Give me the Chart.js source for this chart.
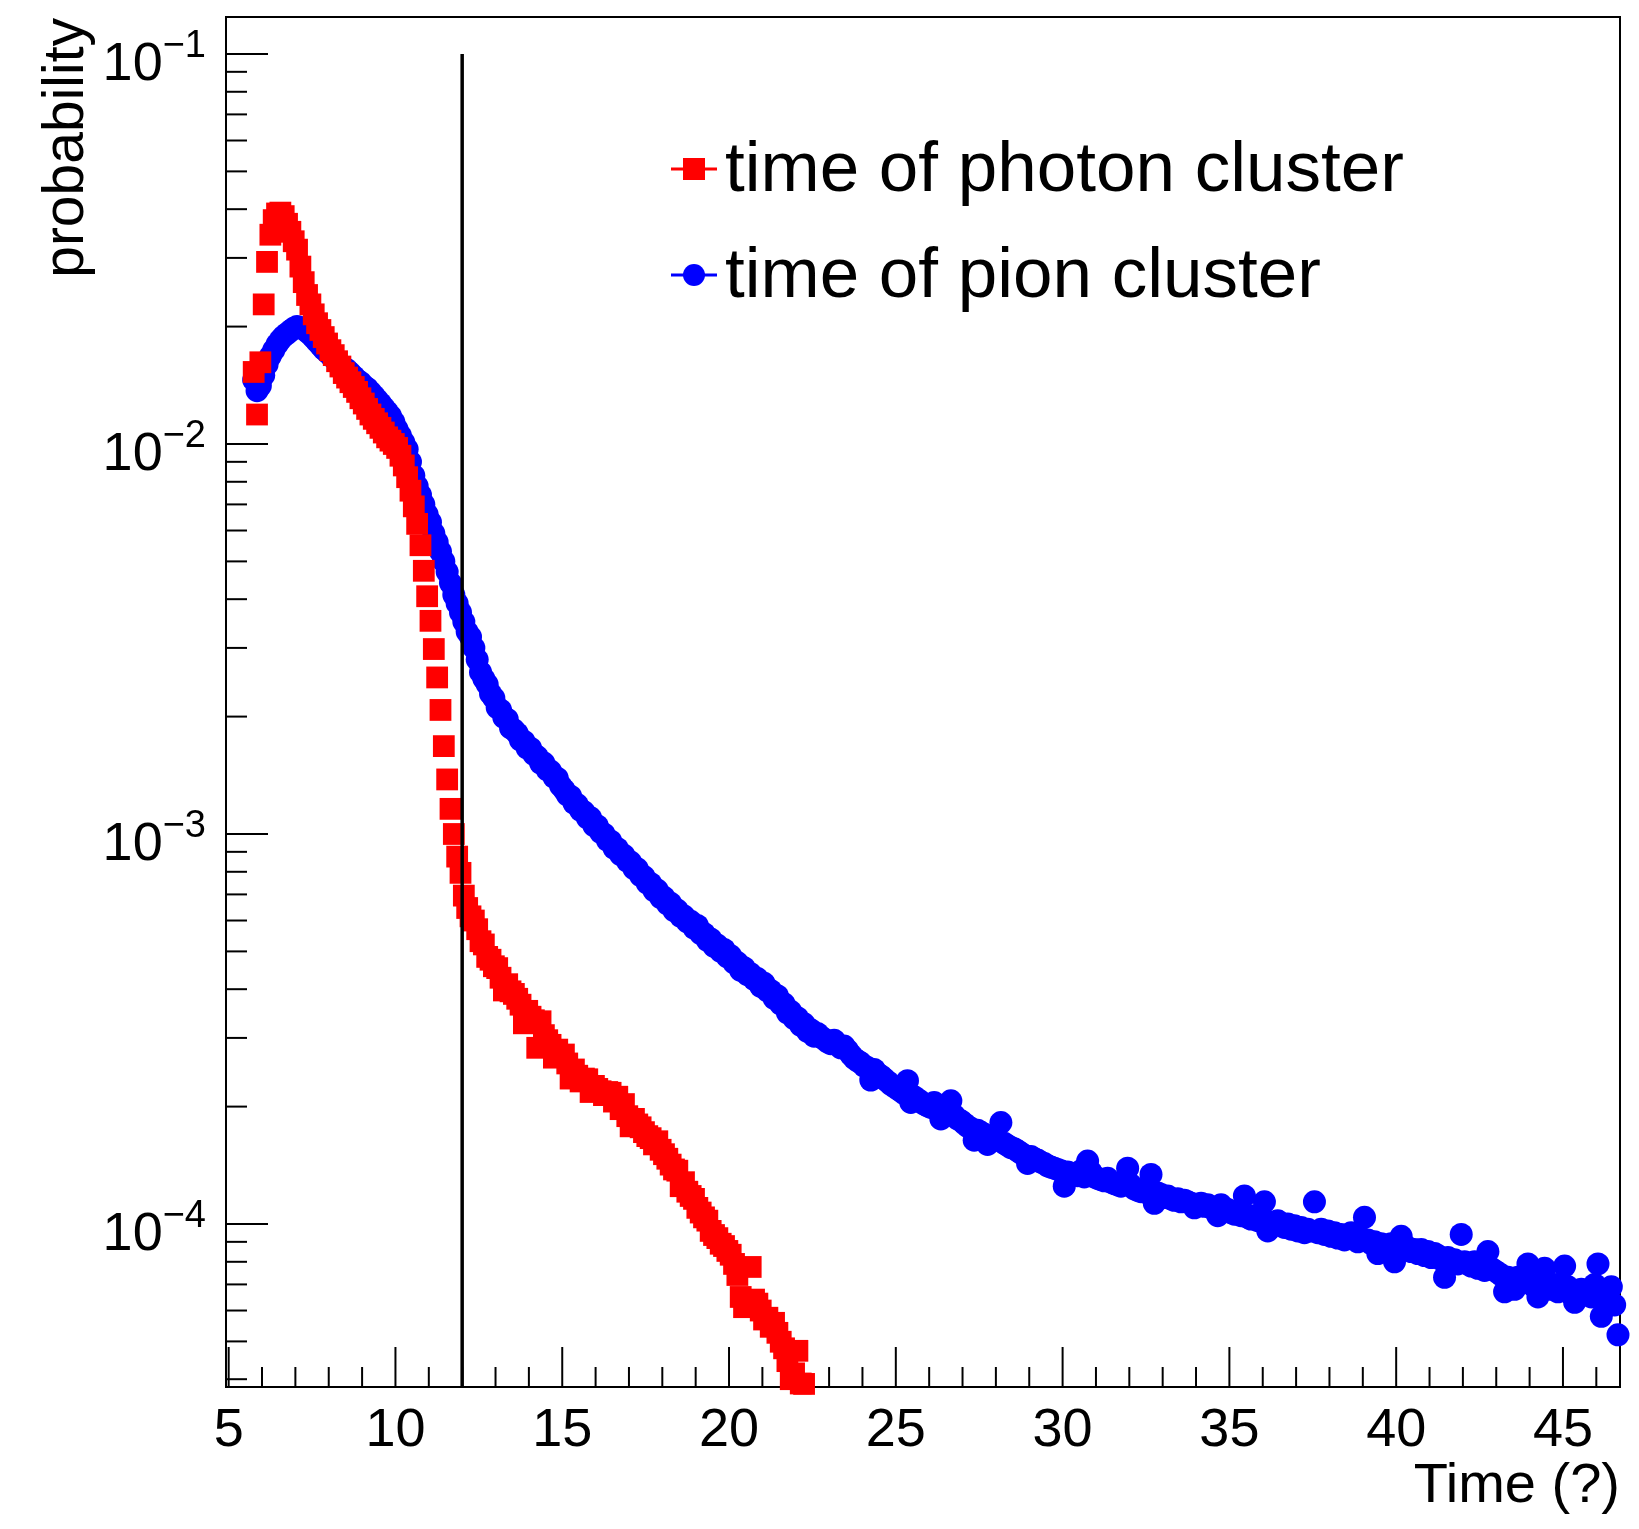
<!DOCTYPE html>
<html>
<head>
<meta charset="utf-8">
<script src="https://cdn.jsdelivr.net/npm/chart.js@4.4.1/dist/chart.umd.min.js"></script>
<style>
html,body{margin:0;padding:0;background:#ffffff;}
#wrap{width:1639px;height:1529px;position:relative;background:#ffffff;}
</style>
</head>
<body>
<div id="wrap"><canvas id="c" width="1639" height="1529"></canvas></div>
<script>
// ---------------- data ----------------
const binStart = 5.75;   // centre of first filled bin
const binWidth = 0.1;    // histogram bin width

const seriesNames = ['time of photon cluster', 'time of pion cluster'];
const xAxisTitle = 'Time (?)';
const yAxisTitle = 'probability';
const xTickLabels = [5, 10, 15, 20, 25, 30, 35, 40, 45];
const yTickExponents = [-1, -2, -3, -4];
const cutTime = 12;
const cutTop = 0.1;

const photonValues = [
  0.0153, 0.0119, 0.0162, 0.0228, 0.0293, 0.0344, 0.0375, 0.0390, 0.0392, 0.0384,
  0.0367, 0.0350, 0.0331, 0.0315, 0.0285, 0.0260, 0.0241, 0.0228, 0.0215, 0.0204,
  0.0196, 0.0188, 0.0181, 0.0174, 0.0169, 0.0163, 0.0158, 0.0152, 0.0148, 0.0144,
  0.0140, 0.0136, 0.0131, 0.0127, 0.0123, 0.0119, 0.0116, 0.0113, 0.0110, 0.0107,
  0.0104, 0.0102, 0.0100, 0.00977, 0.00933, 0.00881, 0.00822, 0.00759, 0.00692, 0.00624,
  0.00550, 0.00473, 0.00407, 0.00352, 0.00298, 0.00252, 0.00208, 0.00168, 0.00138, 0.00116,
  0.00100, 8.75e-4, 7.95e-4, 6.95e-4, 6.46e-4, 6.15e-4, 6.00e-4, 5.70e-4, 5.31e-4, 5.21e-4,
  4.84e-4, 4.76e-4, 4.58e-4, 4.53e-4, 4.28e-4, 3.97e-4, 4.12e-4, 3.95e-4, 3.89e-4, 3.78e-4,
  3.65e-4, 3.27e-4, 3.52e-4, 3.40e-4, 3.33e-4, 2.83e-4, 3.31e-4, 3.05e-4, 2.96e-4, 2.88e-4,
  2.67e-4, 2.80e-4, 2.70e-4, 2.72e-4, 2.58e-4, 2.36e-4, 2.49e-4, 2.40e-4, 2.32e-4, 2.36e-4,
  2.35e-4, 2.18e-4, 2.26e-4, 2.22e-4, 2.19e-4, 2.14e-4, 2.18e-4, 2.17e-4, 2.06e-4, 2.12e-4,
  1.97e-4, 2.03e-4, 1.89e-4, 1.78e-4, 1.86e-4, 1.80e-4, 1.77e-4, 1.72e-4, 1.68e-4, 1.66e-4,
  1.60e-4, 1.63e-4, 1.55e-4, 1.51e-4, 1.47e-4, 1.42e-4, 1.38e-4, 1.37e-4, 1.25e-4, 1.28e-4,
  1.21e-4, 1.18e-4, 1.16e-4, 1.10e-4, 1.07e-4, 1.04e-4, 1.02e-4, 9.60e-5, 9.37e-5, 9.20e-5,
  8.90e-5, 8.78e-5, 8.53e-5, 8.34e-5, 7.90e-5, 7.40e-5, 6.50e-5, 6.12e-5, 6.30e-5, 7.76e-5,
  6.40e-5, 6.25e-5, 6.00e-5, 5.69e-5, 5.75e-5, 5.45e-5, 5.58e-5, 5.26e-5, 4.99e-5, 4.80e-5,
  4.45e-5, 4.00e-5, 4.14e-5, 4.73e-5, 3.90e-5, 3.89e-5
];

const pionValues = [
  0.0146, 0.0137, 0.0141, 0.0150, 0.0160, 0.0168, 0.0174, 0.0180, 0.0185, 0.0189,
  0.0192, 0.0195, 0.0198, 0.0200, 0.0199, 0.0197, 0.0194, 0.0191, 0.0187, 0.0183,
  0.0179, 0.0175, 0.0172, 0.0169, 0.0166, 0.0163, 0.0160, 0.0157, 0.0155, 0.0152,
  0.0149, 0.0146, 0.0144, 0.0141, 0.0139, 0.0136, 0.0133, 0.0130, 0.0127, 0.0124,
  0.0121, 0.0118, 0.0114, 0.0109, 0.0105, 0.0101, 0.0097, 0.0090, 0.0083, 0.0078,
  0.0074, 0.0070, 0.0066, 0.0063, 0.0059, 0.0056, 0.0053, 0.0050, 0.0047, 0.0044,
  0.0041, 0.0039, 0.0037, 0.0035, 0.0033, 0.0032, 0.0030, 0.0028, 0.0026, 0.0025,
  2.42e-3, 2.29e-3, 2.23e-3, 2.11e-3, 2.08e-3, 1.99e-3, 1.97e-3, 1.87e-3, 1.85e-3, 1.81e-3,
  1.74e-3, 1.73e-3, 1.66e-3, 1.66e-3, 1.60e-3, 1.58e-3, 1.52e-3, 1.52e-3, 1.46e-3, 1.45e-3,
  1.40e-3, 1.39e-3, 1.33e-3, 1.30e-3, 1.26e-3, 1.25e-3, 1.20e-3, 1.19e-3, 1.15e-3, 1.14e-3,
  1.10e-3, 1.10e-3, 1.05e-3, 1.05e-3, 1.01e-3, 1.00e-3, 9.65e-4, 9.60e-4, 9.20e-4, 9.18e-4,
  8.85e-4, 8.82e-4, 8.52e-4, 8.47e-4, 8.15e-4, 8.14e-4, 7.82e-4, 7.78e-4, 7.48e-4, 7.47e-4,
  7.16e-4, 7.18e-4, 6.87e-4, 6.88e-4, 6.62e-4, 6.64e-4, 6.36e-4, 6.38e-4, 6.15e-4, 6.16e-4,
  5.95e-4, 5.97e-4, 5.74e-4, 5.83e-4, 5.55e-4, 5.56e-4, 5.34e-4, 5.38e-4, 5.15e-4, 5.19e-4,
  5.00e-4, 5.06e-4, 4.84e-4, 4.87e-4, 4.67e-4, 4.68e-4, 4.47e-4, 4.54e-4, 4.36e-4, 4.38e-4,
  4.24e-4, 4.26e-4, 4.07e-4, 4.14e-4, 3.96e-4, 3.97e-4, 3.79e-4, 3.85e-4, 3.66e-4, 3.67e-4,
  3.48e-4, 3.51e-4, 3.36e-4, 3.38e-4, 3.23e-4, 3.26e-4, 3.12e-4, 3.15e-4, 3.03e-4, 3.08e-4,
  3.02e-4, 2.98e-4, 2.93e-4, 2.90e-4, 2.96e-4, 2.88e-4, 2.83e-4, 2.86e-4, 2.79e-4, 2.72e-4,
  2.66e-4, 2.62e-4, 2.59e-4, 2.54e-4, 2.52e-4, 2.34e-4, 2.49e-4, 2.43e-4, 2.40e-4, 2.36e-4,
  2.32e-4, 2.28e-4, 2.25e-4, 2.22e-4, 2.19e-4, 2.16e-4, 2.33e-4, 2.05e-4, 2.12e-4, 2.09e-4,
  2.06e-4, 2.03e-4, 2.01e-4, 1.99e-4, 2.05e-4, 1.96e-4, 1.86e-4, 1.94e-4, 1.92e-4, 2.07e-4,
  1.90e-4, 1.86e-4, 1.84e-4, 1.81e-4, 1.78e-4, 1.76e-4, 1.64e-4, 1.74e-4, 1.72e-4, 1.70e-4,
  1.60e-4, 1.68e-4, 1.66e-4, 1.64e-4, 1.82e-4, 1.61e-4, 1.59e-4, 1.57e-4, 1.56e-4, 1.54e-4,
  1.52e-4, 1.50e-4, 1.43e-4, 1.49e-4, 1.47e-4, 1.46e-4, 1.44e-4, 1.43e-4, 1.41e-4, 1.40e-4,
  1.39e-4, 1.38e-4, 1.37e-4, 1.25e-4, 1.36e-4, 1.35e-4, 1.34e-4, 1.33e-4, 1.37e-4, 1.32e-4,
  1.45e-4, 1.36e-4, 1.32e-4, 1.31e-4, 1.30e-4, 1.29e-4, 1.31e-4, 1.28e-4, 1.27e-4, 1.26e-4,
  1.25e-4, 1.27e-4, 1.39e-4, 1.26e-4, 1.23e-4, 1.22e-4, 1.21e-4, 1.23e-4, 1.20e-4, 1.34e-4,
  1.13e-4, 1.20e-4, 1.19e-4, 1.17e-4, 1.18e-4, 1.16e-4, 1.15e-4, 1.16e-4, 1.14e-4, 1.15e-4,
  1.14e-4, 1.13e-4, 1.10e-4, 1.12e-4, 1.13e-4, 1.11e-4, 1.12e-4, 1.10e-4, 1.09e-4, 1.05e-4,
  1.12e-4, 1.08e-4, 1.09e-4, 1.07e-4, 1.06e-4, 1.08e-4, 1.05e-4, 1.18e-4, 1.04e-4, 1.03e-4,
  1.05e-4, 1.02e-4, 1.04e-4, 1.14e-4, 9.6e-5, 1.01e-4, 1.00e-4, 1.02e-4, 9.9e-5, 9.8e-5,
  1.00e-4, 9.7e-5, 9.9e-5, 9.6e-5, 9.8e-5, 9.5e-5, 9.7e-5, 9.6e-5, 1.14e-4, 9.5e-5,
  9.7e-5, 9.4e-5, 9.6e-5, 9.3e-5, 9.5e-5, 9.2e-5, 9.4e-5, 9.1e-5, 9.3e-5, 9.5e-5,
  9.3e-5, 9.0e-5, 9.2e-5, 1.04e-4, 9.1e-5, 8.9e-5, 9.0e-5, 8.4e-5, 8.9e-5, 8.8e-5,
  8.7e-5, 8.9e-5, 8.0e-5, 8.8e-5, 9.3e-5, 8.6e-5, 8.7e-5, 8.5e-5, 8.6e-5, 8.4e-5,
  8.6e-5, 8.3e-5, 8.5e-5, 8.2e-5, 8.4e-5, 8.3e-5, 8.1e-5, 7.3e-5, 8.2e-5, 8.0e-5,
  8.1e-5, 7.9e-5, 9.4e-5, 8.0e-5, 7.9e-5, 7.8e-5, 8.0e-5, 7.7e-5, 7.9e-5, 7.6e-5,
  8.5e-5, 7.7e-5, 7.6e-5, 7.5e-5, 7.4e-5, 6.7e-5, 7.3e-5, 7.2e-5, 6.8e-5, 7.3e-5,
  7.1e-5, 7.2e-5, 7.9e-5, 7.0e-5, 6.9e-5, 6.5e-5, 7.1e-5, 7.7e-5, 6.9e-5, 6.8e-5,
  7.0e-5, 6.7e-5, 6.8e-5, 7.8e-5, 6.9e-5, 6.6e-5, 6.3e-5, 6.7e-5, 6.8e-5, 6.6e-5,
  6.7e-5, 6.5e-5, 7.0e-5, 7.9e-5, 5.8e-5, 6.6e-5, 6.4e-5, 6.9e-5, 6.2e-5, 5.2e-5
];

// axis ranges
const xMin = 4.92, xMax = 46.71;
const yMin = 3.82e-5, yMax = 0.1244;

// ---------------- helpers ----------------
function binPoints(values) {
  return values.map((v, i) => ({ x: Math.round((binStart + i * binWidth) * 100) / 100, y: v }));
}
const FONT = '"Liberation Sans", Arial, Helvetica, sans-serif';

function seg(ctx, x1, y1, x2, y2) {
  ctx.beginPath(); ctx.moveTo(x1, y1); ctx.lineTo(x2, y2); ctx.stroke();
}

const rootAxes = {
  id: 'rootAxes',
  beforeDatasetsDraw(chart) {
    const ctx = chart.ctx;
    const xs = chart.scales.x, ys = chart.scales.y;
    const a = chart.chartArea;
    ctx.save();
    ctx.strokeStyle = '#000'; ctx.fillStyle = '#000';
    ctx.lineWidth = 2;
    ctx.strokeRect(a.left, a.top, a.right - a.left, a.bottom - a.top);
    // x ticks (inside the frame)
    for (let v = Math.ceil(xs.min); v <= xs.max; v++) {
      const px = xs.getPixelForValue(v);
      const len = (v % 5 === 0) ? 40 : 20;
      seg(ctx, px, a.bottom, px, a.bottom - len);
    }
    // y ticks
    for (let e = -6; e <= 0; e++) {
      for (let m = 1; m <= 9; m++) {
        const v = m * Math.pow(10, e);
        if (v < ys.min || v > ys.max) continue;
        const py = ys.getPixelForValue(v);
        const len = (m === 1) ? 42 : 21;
        seg(ctx, a.left, py, a.left + len, py);
      }
    }
    // x tick labels
    ctx.font = '54px ' + FONT;
    ctx.textAlign = 'center'; ctx.textBaseline = 'alphabetic';
    xTickLabels.forEach(v => {
      ctx.fillText(String(v), xs.getPixelForValue(v), 1446);
    });
    // y tick labels 10^e
    yTickExponents.forEach(e => {
      const py = ys.getPixelForValue(Math.pow(10, e));
      ctx.font = '54px ' + FONT;
      const wBase = ctx.measureText('10').width;
      const sup = '\u2212' + Math.abs(e);
      ctx.font = '38px ' + FONT;
      const wSup = ctx.measureText(sup).width;
      const x0 = 206 - wBase - wSup;
      ctx.textAlign = 'left';
      ctx.font = '54px ' + FONT;
      ctx.fillText('10', x0, py + 26);
      ctx.font = '38px ' + FONT;
      ctx.fillText(sup, x0 + wBase, py + 3);
    });
    // axis titles
    ctx.font = '56px ' + FONT;
    ctx.textAlign = 'right';
    ctx.fillText(xAxisTitle, a.right, 1502);
    ctx.save();
    ctx.translate(83, a.top + 1);
    ctx.rotate(-Math.PI / 2);
    ctx.font = '57px ' + FONT;
    ctx.textAlign = 'right';
    ctx.fillText(yAxisTitle, 0, 0);
    ctx.restore();
    ctx.restore();
  },
  afterDraw(chart) {
    const ctx = chart.ctx;
    ctx.save();
    // legend entry 1: photon (red square)
    ctx.strokeStyle = '#ff0000'; ctx.lineWidth = 3;
    seg(ctx, 671, 169, 717, 169);
    ctx.fillStyle = '#ff0000';
    ctx.fillRect(683, 158, 22, 22);
    // legend entry 2: pion (blue circle)
    ctx.strokeStyle = '#0000ff';
    seg(ctx, 671, 275, 717, 275);
    ctx.fillStyle = '#0000ff';
    ctx.beginPath(); ctx.arc(694, 275, 11, 0, Math.PI * 2); ctx.fill();
    ctx.fillStyle = '#000';
    ctx.font = '71px ' + FONT;
    ctx.textAlign = 'left'; ctx.textBaseline = 'alphabetic';
    ctx.fillText(seriesNames[0], 725, 191);
    ctx.fillText(seriesNames[1], 725, 297);
    ctx.restore();
  }
};

const chart = new Chart(document.getElementById('c').getContext('2d'), {
  type: 'scatter',
  data: {
    datasets: [
      {
        type: 'line',
        label: 'cut',
        data: [{ x: cutTime, y: cutTop }, { x: cutTime, y: yMin }],
        borderColor: '#000000',
        borderWidth: 3.5,
        pointRadius: 0,
        fill: false,
        showLine: true,
        clip: false,
        order: 0
      },
      {
        label: seriesNames[0],
        data: binPoints(photonValues),
        pointStyle: 'rect',
        pointRadius: 15.4,
        pointBackgroundColor: '#ff0000',
        backgroundColor: '#ff0000',
        pointBorderWidth: 0,
        borderWidth: 0,
        clip: false,
        order: 1
      },
      {
        label: seriesNames[1],
        data: binPoints(pionValues),
        pointStyle: 'circle',
        pointRadius: 11.5,
        pointBackgroundColor: '#0000ff',
        backgroundColor: '#0000ff',
        pointBorderWidth: 0,
        borderWidth: 0,
        clip: false,
        order: 2
      }
    ]
  },
  options: {
    responsive: false,
    animation: false,
    devicePixelRatio: 1,
    events: [],
    layout: { padding: { left: 226, top: 17, right: 19, bottom: 142 } },
    plugins: { legend: { display: false }, tooltip: { enabled: false } },
    scales: {
      x: { type: 'linear', min: xMin, max: xMax, display: false },
      y: { type: 'logarithmic', min: yMin, max: yMax, display: false }
    }
  },
  plugins: [rootAxes]
});
</script>
</body>
</html>
